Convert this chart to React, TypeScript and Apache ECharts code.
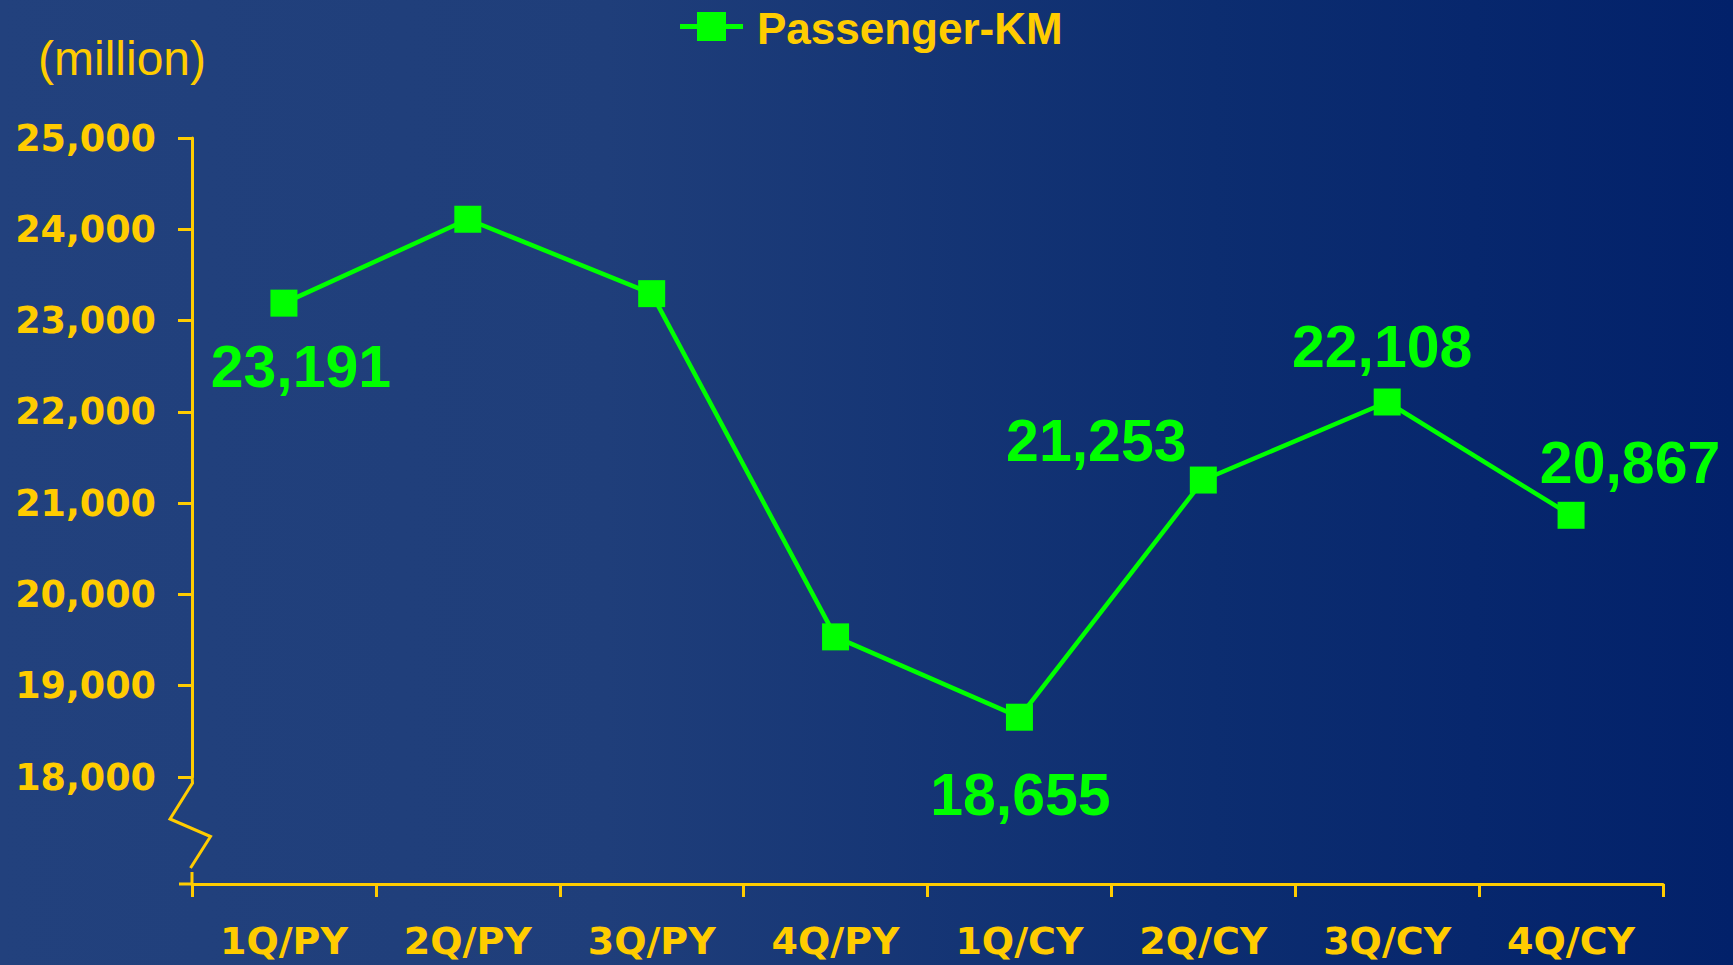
import React, { useEffect, useRef } from "react";
import * as echarts from "echarts";

const categories = ["1Q/PY", "2Q/PY", "3Q/PY", "4Q/PY", "1Q/CY", "2Q/CY", "3Q/CY", "4Q/CY"];
const passengerKm = [23191, 24110, 23295, 19535, 18655, 21253, 22108, 20867];
const showLabel = [true, false, false, false, true, true, true, true];
const yTicks = [18000, 19000, 20000, 21000, 22000, 23000, 24000, 25000];
const seriesName = "Passenger-KM";
const unitText = "(million)";

const labelOffsets: [number, number][] = [
  [17, 64],
  [0, 0],
  [0, 0],
  [0, 0],
  [1, 78],
  [-107, -39],
  [-5, -55],
  [59, -52],
];

const YELLOW = "#FFCC00";
const GREEN = "#00FF00";

export default function App() {
  const ref = useRef<HTMLDivElement>(null);
  useEffect(() => {
    if (!ref.current) return;
    const chart = echarts.init(ref.current, undefined, { renderer: "svg" });
    const fmt = (v: number) => v.toLocaleString("en-US");
    chart.setOption({
      animation: false,
      backgroundColor: new echarts.graphic.LinearGradient(0, 0, 1, 0, [
        { offset: 0, color: "#22417D" },
        { offset: 0.35, color: "#1F3E7A" },
        { offset: 0.7, color: "#0C2D70" },
        { offset: 1, color: "#02216A" },
      ]),
      grid: { left: 192, right: 70, top: 138, bottom: 188, containLabel: false },
      xAxis: {
        type: "category",
        data: categories,
        boundaryGap: true,
        offset: 107,
        axisLine: { show: true, lineStyle: { color: YELLOW, width: 3 } },
        axisTick: { show: true, length: 13, lineStyle: { color: YELLOW, width: 3 } },
        axisLabel: {
          color: YELLOW,
          fontFamily: "DejaVu Sans",
          fontWeight: "bold",
          fontSize: 38,
          lineHeight: 30,
          margin: 42,
        },
        splitLine: { show: false },
      },
      yAxis: {
        type: "value",
        min: yTicks[0],
        max: yTicks[yTicks.length - 1],
        interval: 1000,
        axisLine: { show: true, lineStyle: { color: YELLOW, width: 3 } },
        axisTick: { show: true, length: 14, lineStyle: { color: YELLOW, width: 3 } },
        axisLabel: {
          color: YELLOW,
          fontFamily: "DejaVu Sans",
          fontWeight: "bold",
          fontSize: 36.5,
          margin: 36,
          formatter: (v: number) => fmt(v),
        },
        splitLine: { show: false },
      },
      series: [
        {
          name: seriesName,
          type: "line",
          data: passengerKm.map((v, i) => ({
            value: v,
            label: {
              show: showLabel[i],
              position: "inside",
              offset: labelOffsets[i],
            },
          })),
          symbol: "rect",
          symbolSize: 27,
          itemStyle: { color: GREEN },
          lineStyle: { color: GREEN, width: 4.5 },
          label: {
            color: GREEN,
            fontFamily: "Liberation Sans",
            fontWeight: "bold",
            fontSize: 59,
            align: "center",
            verticalAlign: "middle",
            formatter: (p: any) => fmt(p.value),
          },
        },
      ],
      graphic: [
        {
          type: "polyline",
          shape: {
            points: [
              [192, 776],
              [192.5, 783],
              [170, 819],
              [210.5, 836.5],
              [190.5, 868],
            ],
          },
          style: { stroke: YELLOW, lineWidth: 3, fill: null },
        },
        {
          type: "line",
          shape: { x1: 192, y1: 872, x2: 192, y2: 884 },
          style: { stroke: YELLOW, lineWidth: 3 },
        },
        {
          type: "line",
          shape: { x1: 179, y1: 884, x2: 192, y2: 884 },
          style: { stroke: YELLOW, lineWidth: 3 },
        },
        {
          type: "text",
          x: 122,
          y: 58,
          style: {
            text: unitText,
            fill: YELLOW,
            font: "48px 'Liberation Sans'",
            align: "center",
            verticalAlign: "middle",
          },
        },
        {
          type: "line",
          shape: { x1: 680, y1: 26.5, x2: 743, y2: 26.5 },
          style: { stroke: GREEN, lineWidth: 5 },
        },
        {
          type: "rect",
          shape: { x: 697, y: 12, width: 29, height: 29 },
          style: { fill: GREEN },
        },
        {
          type: "text",
          x: 757,
          y: 28,
          style: {
            text: seriesName,
            fill: YELLOW,
            font: "bold 44px 'Liberation Sans'",
            align: "left",
            verticalAlign: "middle",
          },
        },
      ],
    });
    return () => chart.dispose();
  }, []);
  return (
    <div
      ref={ref}
      style={{ position: "fixed", left: 0, top: 0, width: 1733, height: 965 }}
    />
  );
}
